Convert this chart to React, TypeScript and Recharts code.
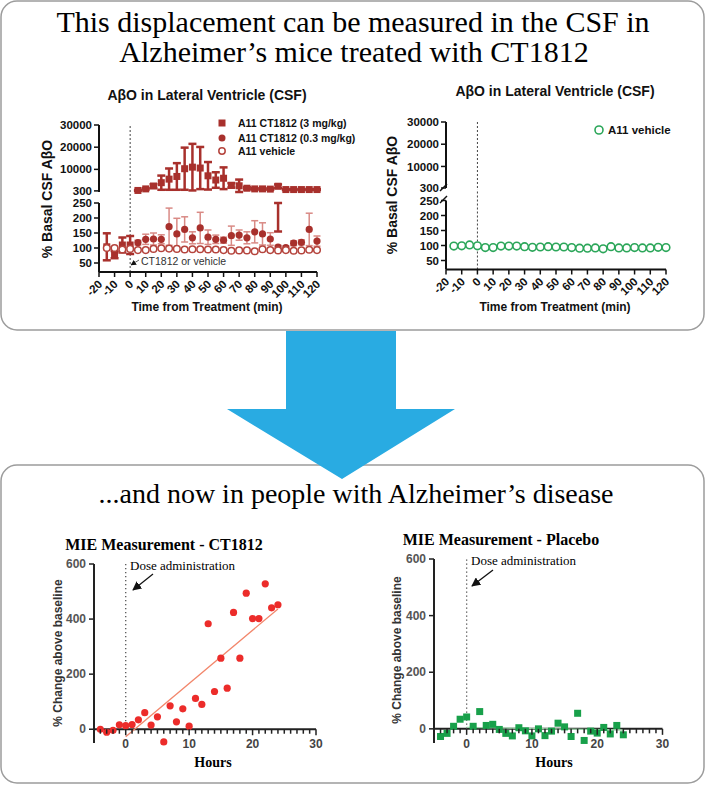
import React from 'react';
import { ScatterChart, Scatter, XAxis, YAxis, ErrorBar, ReferenceLine } from 'recharts';

const W = 706;
const H = 786;

// ---- mouse CSF AβO (% basal), time from treatment in minutes ----
const earlyMinutes = [-15, -10, -5, 0];
const lateMinutes = [5, 10, 15, 20, 25, 30, 35, 40, 45, 50, 55, 60, 65, 70, 75, 80, 85, 90, 95, 100, 105, 110, 115, 120];
const allMinutes = [...earlyMinutes, ...lateMinutes];

const highDoseEarly = [104, 78, 110, 110];
const highDoseEarlyErr = [45, 12, 25, 30];
const highDoseLate = [500, 1200, 2500, 4000, 5600, 6800, 10300, 11000, 10600, 7100, 5200, 6000, 2800, 2600, 1500, 1200, 1200, 1100, 2400, 900, 900, 900, 900, 900];
const highDoseLateErr = [200, 300, 800, 3200, 4800, 6000, 9500, 10500, 9500, 6200, 3500, 4900, 1000, 2800, 500, 300, 300, 300, 800, 200, 200, 200, 200, 200];
// lower error of the 95 min point, crossing the axis break
const highDoseTailMinutes = [95];
const highDoseTailTop = [250];
const highDoseTailErr = [[95, 0]];

const lowDose = [118, 129, 130, 129, 171, 147, 162, 134, 167, 136, 129, 126, 141, 143, 134, 154, 147, 130, 103, 101, 116, 119, 162, 123];
const lowDoseErr = [8, 17, 20, 15, 62, 52, 42, 20, 52, 24, 14, 10, 32, 17, 20, 37, 37, 21, 6, 6, 8, 8, 54, 17];

const vehicleLeft = [100, 100, 95, 97, 93, 93, 97, 99, 98, 97, 95, 96, 96, 95, 95, 93, 91, 92, 92, 89, 96, 93, 92, 93, 91, 92, 94, 93];
const vehicleRight = [98, 99, 102, 99, 93, 93, 98, 98, 98, 96, 94, 95, 96, 95, 95, 93, 91, 91, 92, 89, 96, 92, 92, 93, 92, 92, 94, 93];

const minuteTicks = [-20, -10, 0, 10, 20, 30, 40, 50, 60, 70, 80, 90, 100, 110, 120];
const upperTicks = [300, 10000, 20000, 30000];
const lowerTicks = [50, 100, 150, 200, 250];

// ---- human MIE, % change above baseline ----
const hours = [-4, -3, -2, -1, 0, 1, 2, 3, 4, 5, 6, 7, 8, 9, 10, 11, 12, 13, 14, 15, 16, 17, 18, 19, 20, 21, 22, 23, 24];
const ct1812Change = [0, -11, -4, 16, 13, 17, 34, 60, 15, 45, -46, 85, 27, 74, 11, 112, 90, 383, 137, 258, 149, 424, 258, 494, 402, 402, 528, 441, 452];
const placeboChange = [-27, -16, 9, 34, 42, 9, 61, 12, 16, -2, -16, -25, 4, -7, -25, 0, -24, -8, 20, 7, -27, 55, -41, -8, -15, 5, -18, 12, -21];
const fitHours = [0, 24];
const ct1812Fit = [-27, 437];
const placeboFit = [5, -4];
const hourTicks = [0, 10, 20, 30];
const changeTicks = [0, 200, 400, 600];

const sans = "'Liberation Sans', Arial, Helvetica, sans-serif";
const narrow = "'Liberation Sans Narrow', 'Liberation Sans', Arial, sans-serif";
const serif = "'Liberation Serif', 'Times New Roman', Times, serif";

const RED = '#A8302C';
const RED_LIGHT = '#D98A85';
const RING_RED = '#B5443D';
const GREEN_RING = '#2BA659';
const BRIGHT_RED = '#EC2C2A';
const GREEN = '#18A04A';

const zip = (xs: number[], ys: number[], errs?: any[]) =>
  xs.map((t, i) => ({ t, v: ys[i], err: errs ? errs[i] : 0 }));

type Rect = { x0: number; y0: number; x1: number; y1: number };
const margins = (r: Rect, yW: number, xH: number) => ({
  left: r.x0 - yW,
  top: r.y0,
  right: W - r.x1,
  bottom: H - r.y1 - xH,
});

const Layer = ({ children }: { children: React.ReactNode }) => (
  <div style={{ position: 'absolute', left: 0, top: 0 }}>{children}</div>
);

const squareShape = (color: string, s: number) => (p: any) => (
  <rect x={p.cx - s / 2} y={p.cy - s / 2} width={s} height={s} fill={color} />
);
const dotShape = (color: string, r: number) => (p: any) => <circle cx={p.cx} cy={p.cy} r={r} fill={color} />;
const ringShape = (color: string, r: number, w: number) => (p: any) => (
  <circle cx={p.cx} cy={p.cy} r={r} fill="#fff" stroke={color} strokeWidth={w} />
);
const noShape = () => <g />;

const axisLine = { stroke: '#111', strokeWidth: 2 };
const tickLine = { stroke: '#111', strokeWidth: 1.5 };
const yTick = { fontSize: 11.5, fontWeight: 700, fill: '#111', fontFamily: sans };

const MinuteTick = (p: any) => {
  const tx = p.x + 4;
  const ty = p.y + 6;
  return (
    <text x={tx} y={ty} transform={`rotate(-45 ${tx} ${ty})`} textAnchor="end" fontSize={11.5} fontWeight={700} fill="#111" fontFamily={sans}>
      {p.payload.value}
    </text>
  );
};

// plot rectangles (page pixels)
const leftUpper = { x0: 99, y0: 125, x1: 317, y1: 192 };
const leftLower = { x0: 99, y0: 203, x1: 317, y1: 272 };
const rightUpper = { x0: 446, y0: 122, x1: 666, y1: 188 };
const rightLower = { x0: 446, y0: 200.5, x1: 666, y1: 269.5 };
const humanLeft = { x0: 94, y0: 564, x1: 316, y1: 743 };
const humanRight = { x0: 434, y0: 559, x1: 662.5, y1: 743 };

const UpperPanel = ({ rect, fixed, children }: { rect: Rect; fixed?: boolean; children?: React.ReactNode }) => (
  <Layer>
    <ScatterChart width={W} height={H} margin={margins(rect, 60, 0)}>
      <XAxis type="number" dataKey="t" domain={[-20, 120]} hide />
      <YAxis type="number" dataKey="v" domain={[300, 30000]} ticks={upperTicks} interval={0} width={60}
        allowDataOverflow={!!fixed}
        axisLine={axisLine} tickLine={tickLine} tick={yTick} tickSize={5} tickMargin={2} />
      <ReferenceLine x={0} stroke="#444" strokeDasharray="2 2" />
      {children}
    </ScatterChart>
  </Layer>
);

const LowerPanel = ({ rect, children }: { rect: Rect; children?: React.ReactNode }) => (
  <Layer>
    <ScatterChart width={W} height={H} margin={margins(rect, 60, 30)}>
      <XAxis type="number" dataKey="t" domain={[-20, 120]} ticks={minuteTicks} interval={0} height={30}
        axisLine={axisLine} tickLine={tickLine} tickSize={5} tick={(p: any) => <MinuteTick {...p} />} />
      <YAxis type="number" dataKey="v" domain={[20, 250]} ticks={lowerTicks} interval={0} width={60}
        axisLine={axisLine} tickLine={tickLine} tick={yTick} tickSize={5} tickMargin={2} />
      <ReferenceLine segment={[{ x: 0, y: 20 }, { x: 0, y: 287 }]} ifOverflow="visible" stroke="#444" strokeDasharray="2 2" />
      {children}
    </ScatterChart>
  </Layer>
);

const HourTick = (p: any) => {
  const { x, y, payload, zeroShift } = p;
  const major = hourTicks.includes(payload.value);
  const y0 = y - zeroShift;
  return (
    <g>
      <line x1={x} x2={x} y1={y0} y2={y0 + (major ? 6 : 4.5)} stroke="#222" strokeWidth={1.5} />
      {major && (
        <text x={x} y={y + 4.5} textAnchor="middle" fontSize={12} fontWeight={700} fill="#444" fontFamily={narrow}>
          {payload.value}
        </text>
      )}
    </g>
  );
};

const minorHours = Array.from({ length: 35 }, (_, i) => i - 4);

const HumanChart = ({ rect, points, shape, fit, fitColor }: { rect: Rect; points: number[]; shape: any; fit: number[]; fitColor: string }) => {
  const zeroShift = ((rect.y1 - rect.y0) * 50) / 650;
  return (
    <Layer>
      <ScatterChart width={W} height={H} margin={margins(rect, 50, 20)}>
        <XAxis type="number" dataKey="t" domain={[-5, 30]} ticks={minorHours} interval={0} height={20}
          axisLine={false} tickLine={false} tickSize={0} tickMargin={0}
          tick={(p: any) => <HourTick {...p} zeroShift={zeroShift} />} />
        <YAxis type="number" dataKey="v" domain={[-50, 600]} ticks={changeTicks} interval={0} width={50}
          axisLine={{ stroke: '#222', strokeWidth: 2 }} tickLine={{ stroke: '#222', strokeWidth: 1.5 }} tickSize={5} tickMargin={3}
          tick={{ fontSize: 12, fontWeight: 700, fill: '#555', fontFamily: sans }} />
        <ReferenceLine y={0} stroke="#222" strokeWidth={2} />
        <ReferenceLine segment={[{ x: 0, y: 0 }, { x: 0, y: 600 }]} stroke="#555" strokeWidth={1.3} strokeDasharray="1.3 2.7" />
        <Scatter data={zip(fitHours, fit)} line={{ stroke: fitColor, strokeWidth: 1.3 }} shape={noShape} isAnimationActive={false} />
        <Scatter data={zip(hours, points)} shape={shape} isAnimationActive={false} />
      </ScatterChart>
    </Layer>
  );
};

const Backdrop = () => (
  <svg width={W} height={H} style={{ position: 'absolute', left: 0, top: 0 }}>
    <rect x={1} y={1} width={703} height={329} rx={16} fill="#fff" stroke="#9c9c9c" strokeWidth={1.5} />
    <rect x={1} y={465} width={703} height={318} rx={16} fill="#fff" stroke="#9c9c9c" strokeWidth={1.5} />
    <polygon points="286,331 396,331 396,409 455,409 342,479 227,409 286,409" fill="#29ABE2" />

    <g fontFamily={serif} fill="#000" textAnchor="middle">
      <text x={353} y={32} fontSize={30}>This displacement can be measured in the CSF in</text>
      <text x={354} y={62} fontSize={30}>Alzheimer’s mice treated with CT1812</text>
      <text x={356} y={503} fontSize={28}>...and now in people with Alzheimer’s disease</text>
    </g>

    <g fontFamily={sans} fontWeight={700} fill="#111">
      <text x={207} y={100} fontSize={14} textAnchor="middle">AβO in Lateral Ventricle (CSF)</text>
      <text x={555} y={96} fontSize={14} textAnchor="middle">AβO in Lateral Ventricle (CSF)</text>
      <text x={207} y={311} fontSize={12} textAnchor="middle">Time from Treatment (min)</text>
      <text x={555} y={311} fontSize={12} textAnchor="middle">Time from Treatment (min)</text>
      <text transform="translate(47,199) rotate(-90)" fontSize={14} textAnchor="middle" dominantBaseline="central">% Basal CSF AβO</text>
      <text transform="translate(392,195) rotate(-90)" fontSize={14} textAnchor="middle" dominantBaseline="central">% Basal CSF AβO</text>

      <rect x={218.5} y={119.5} width={7} height={7} fill={RED} />
      <circle cx={222} cy={138} r={3.5} fill={RED} />
      <circle cx={222} cy={151} r={3.2} fill="#fff" stroke={RING_RED} strokeWidth={1.5} />
      <text x={238} y={127} fontSize={10.5}>A11 CT1812 (3 mg/kg)</text>
      <text x={238} y={142} fontSize={10.5}>A11 CT1812 (0.3 mg/kg)</text>
      <text x={238} y={155} fontSize={10.5}>A11 vehicle</text>

      <circle cx={599} cy={130} r={4} fill="#fff" stroke={GREEN_RING} strokeWidth={1.6} />
      <text x={608} y={134} fontSize={11.5}>A11 vehicle</text>
    </g>

    <g fontFamily={serif} fontWeight={700} fill="#000">
      <text x={164} y={550} fontSize={16} textAnchor="middle">MIE Measurement - CT1812</text>
      <text x={501} y={545} fontSize={16} textAnchor="middle">MIE Measurement - Placebo</text>
      <text x={213} y={767} fontSize={14} textAnchor="middle">Hours</text>
      <text x={554} y={767} fontSize={14} textAnchor="middle">Hours</text>
    </g>
    <g fontFamily={sans} fontWeight={700} fill="#333" fontSize={12}>
      <text transform="translate(58,653) rotate(-90)" textAnchor="middle" dominantBaseline="central">% Change above baseline</text>
      <text transform="translate(397,650) rotate(-90)" textAnchor="middle" dominantBaseline="central">% Change above baseline</text>
    </g>
  </svg>
);

const Annotations = () => (
  <svg width={W} height={H} style={{ position: 'absolute', left: 0, top: 0 }}>
    <defs>
      <marker id="head" viewBox="0 0 10 10" refX="9" refY="5" markerWidth="7" markerHeight="7" orient="auto-start-reverse">
        <path d="M0,0 L10,5 L0,10 z" fill="#111" />
      </marker>
    </defs>
    <text x={141} y={265} fontSize={10.5} fill="#333" fontFamily={sans}>CT1812 or vehicle</text>
    <line x1={139} y1={260} x2={131} y2={265} stroke="#333" strokeWidth={0.8} markerEnd="url(#head)" />

    <text x={130} y={570} fontSize={13} fill="#000" fontFamily={serif}>Dose administration</text>
    <line x1={153} y1={574} x2={133} y2={590} stroke="#111" strokeWidth={1.3} markerEnd="url(#head)" />
    <text x={471} y={565} fontSize={13} fill="#000" fontFamily={serif}>Dose administration</text>
    <line x1={493} y1={570} x2={472} y2={586} stroke="#111" strokeWidth={1.3} markerEnd="url(#head)" />

    {/* axis break marks on the right mouse chart */}
    <line x1={440} y1={191} x2={447} y2={184} stroke="#111" strokeWidth={1.5} />
    <line x1={440} y1={203} x2={447} y2={196} stroke="#111" strokeWidth={1.5} />
  </svg>
);

export default function App() {
  const highUpper = zip(lateMinutes, highDoseLate, highDoseLateErr);
  const highLower = zip(earlyMinutes, highDoseEarly, highDoseEarlyErr);
  const highTail = zip(highDoseTailMinutes, highDoseTailTop, highDoseTailErr);
  const low = zip(lateMinutes, lowDose, lowDoseErr);
  const vehL = zip(allMinutes, vehicleLeft);
  const vehR = zip(allMinutes, vehicleRight);

  return (
    <div style={{ position: 'relative', width: W, height: H, background: '#fff', overflow: 'hidden' }}>
      <style>{'body{margin:0}'}</style>
      <Backdrop />

      <UpperPanel rect={leftUpper}>
        <Scatter data={highUpper} shape={squareShape(RED, 7)} isAnimationActive={false}>
          <ErrorBar dataKey="err" direction="y" width={4} stroke={RED} strokeWidth={2.5} isAnimationActive={false} />
        </Scatter>
      </UpperPanel>
      <LowerPanel rect={leftLower}>
        <Scatter data={highTail} shape={noShape} isAnimationActive={false}>
          <ErrorBar dataKey="err" direction="y" width={4} stroke={RED} strokeWidth={2.5} isAnimationActive={false} />
        </Scatter>
        <Scatter data={highLower} shape={squareShape(RED, 7)} isAnimationActive={false}>
          <ErrorBar dataKey="err" direction="y" width={4} stroke={RED} strokeWidth={2.5} isAnimationActive={false} />
        </Scatter>
        <Scatter data={low} shape={dotShape(RED, 3.6)} isAnimationActive={false}>
          <ErrorBar dataKey="err" direction="y" width={3.5} stroke={RED_LIGHT} strokeWidth={1.5} isAnimationActive={false} />
        </Scatter>
        <Scatter data={vehL} shape={ringShape(RING_RED, 3.3, 1.5)} isAnimationActive={false} />
      </LowerPanel>

      {/* right chart: upper segment is empty, the series only pins the axis */}
      <UpperPanel rect={rightUpper} fixed>
        <Scatter data={vehR} shape={noShape} isAnimationActive={false} />
      </UpperPanel>
      <LowerPanel rect={rightLower}>
        <Scatter data={vehR} shape={ringShape(GREEN_RING, 3.8, 1.6)} isAnimationActive={false} />
      </LowerPanel>

      <HumanChart rect={humanLeft} points={ct1812Change} shape={dotShape(BRIGHT_RED, 3.6)} fit={ct1812Fit} fitColor="#F2866B" />
      <HumanChart rect={humanRight} points={placeboChange} shape={squareShape(GREEN, 7)} fit={placeboFit} fitColor="#9BD3A8" />

      <Annotations />
    </div>
  );
}
